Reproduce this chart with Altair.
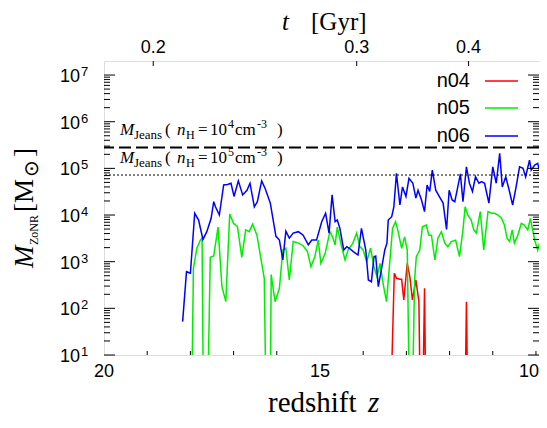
import altair as alt
import pandas as pd

# ---------------- data ----------------
runs = ["n04", "n05", "n06"]
colors = ["#ff0000", "#00ee00", "#0000ff"]

z_n04 = [13.36, 13.28, 13.23, 13.15, 13.11, 13.06, 12.98, 12.92, 12.86, 12.78,
         12.71, 12.68, 12.62, 12.58, 12.55, 11.64, 11.61, 11.58]
m_n04 = [1, 564, 440, 419, 420, 151, 923, 476, 151, 405,
         139, 1, 1, 269, 1, 1, 139, 1]

z_n05 = [17.97, 17.93, 17.85, 17.77, 17.73, 17.70, 17.60, 17.54, 17.46, 17.36,
         17.27, 17.18, 17.09, 17.00, 16.91, 16.81, 16.72, 16.64, 16.56, 16.46,
         16.29, 16.25, 16.15, 16.13, 16.04, 15.94, 15.86, 15.79, 15.71, 15.62,
         15.50, 15.39, 15.29, 15.21, 15.12, 15.04, 14.98, 14.88, 14.77, 14.71,
         14.65, 14.60, 14.50, 14.42, 14.35, 14.24, 14.15, 14.08, 14.00, 13.92,
         13.83, 13.75, 13.68, 13.61, 13.54, 13.46, 13.38, 13.32, 13.25, 13.19,
         13.11, 13.04, 12.98, 12.93, 12.86, 12.81, 12.77, 12.69, 12.63, 12.54,
         12.48, 12.42, 12.34, 12.27, 12.19, 12.11, 12.04, 11.96, 11.86, 11.77,
         11.69, 11.64, 11.58, 11.50, 11.44, 11.38, 11.29, 11.21, 11.11, 11.03,
         10.96, 10.88, 10.80, 10.73, 10.67, 10.61, 10.55, 10.50, 10.42, 10.34,
         10.27, 10.19, 10.13, 10.03, 9.96, 9.90, 9.85]
m_n05 = [1, 720, 1.94e3, 2.9e3, 3.2e3, 1, 1, 1.24e3, 1.32e3, 5.5e3,
         291, 139, 1.05e4, 6.6e3, 5.6e3, 1.24e3, 4.8e3, 4.4e3, 6.4e3, 3.7e3,
         440, 1, 1, 530, 139, 269, 1.78e3, 1.94e3, 405, 2.7e3,
         2.5e3, 2.2e3, 1.64e3, 780, 1.28e3, 2.9e3, 923, 1.51e3, 4.4e3, 3.4e3,
         2.3e3, 5.5e3, 2.1e3, 1.09e3, 1.78e3, 2.5e3, 4.1e3, 2.1e3, 1.78e3, 1.0e3,
         1.94e3, 780, 476, 923, 344, 139, 1.09e3, 5.2e3, 7.2e3, 4.4e3,
         1.94e3, 3.4e3, 1.78e3, 1, 1, 405, 1.28e3, 1.78e3, 5.6e3, 6.1e3,
         3.7e3, 3.7e3, 1.09e3, 3.2e3, 4.4e3, 2.5e3, 2.1e3, 2.7e3, 2.9e3, 1.28e3,
         4.8e3, 1.5e4, 1.0e4, 7.8e3, 4.8e3, 4.1e3, 1.18e4, 1.78e3, 1.18e4, 1.09e4,
         1.09e4, 1.0e4, 8.5e3, 6.1e3, 3.2e3, 2.7e3, 4.8e3, 2.5e3, 3.7e3, 6.6e3,
         6.1e3, 4.8e3, 8.5e3, 2.9e3, 1.78e3, 2.9e3, 3.7e3]

z_n06 = [18.18, 18.09, 18.00, 17.90, 17.81, 17.71, 17.62, 17.52, 17.46, 17.42,
         17.33, 17.23, 17.14, 17.06, 16.99, 16.89, 16.79, 16.69, 16.62, 16.52,
         16.45, 16.35, 16.27, 16.15, 16.02, 15.94, 15.86, 15.79, 15.71, 15.62,
         15.50, 15.39, 15.27, 15.19, 15.08, 14.96, 14.87, 14.79, 14.72, 14.65,
         14.60, 14.54, 14.45, 14.38, 14.32, 14.23, 14.12, 14.04, 13.94, 13.88,
         13.81, 13.75, 13.71, 13.65, 13.58, 13.50, 13.45, 13.42, 13.34, 13.29,
         13.23, 13.15, 13.09, 13.01, 12.94, 12.85, 12.78, 12.73, 12.65, 12.58,
         12.52, 12.46, 12.40, 12.32, 12.24, 12.15, 12.07, 12.01, 11.94, 11.88,
         11.81, 11.75, 11.69, 11.61, 11.54, 11.47, 11.40, 11.32, 11.26, 11.19,
         11.09, 11.00, 10.92, 10.84, 10.78, 10.70, 10.63, 10.54, 10.46, 10.38,
         10.30, 10.24, 10.15, 10.11, 10.03, 9.96, 9.90, 9.85]
m_n06 = [52, 610, 564, 1.09e4, 7.8e3, 3.0e3, 4.4e3, 8.5e3, 1.93e4, 1.5e4,
         1.0e4, 4.4e4, 4.5e4, 4.8e4, 2.5e4, 5.4e4, 2.7e4, 3.4e4, 4.8e4, 1.5e4,
         1.93e4, 5.4e4, 3.7e4, 1.8e4, 3.5e3, 2.9e3, 1.09e3, 4.5e3, 3.2e3, 4.1e3,
         4.4e3, 3.7e3, 2.3e3, 2.9e3, 2.9e3, 7.2e3, 1.09e4, 4.1e3, 2.7e4, 7.2e3,
         7.8e3, 5.2e3, 1.78e3, 2.1e3, 1.94e3, 1.64e3, 1.39e3, 5.2e3, 1.78e3, 405,
         372, 1.28e3, 1.32e3, 291, 664, 1.78e3, 2.5e3, 7.8e3, 9.2e3, 1.5e4,
         7.8e4, 1.64e4, 4.0e4, 2.5e4, 6.1e4, 4.8e4, 2.3e4, 3.4e4, 2.1e4, 1.18e4,
         4.4e4, 3.2e4, 9.2e4, 3.4e4, 2.5e4, 1.8e4, 4.9e3, 3.4e4, 2.1e4, 1.93e4,
         4.0e4, 7.6e4, 1.93e4, 1.08e5, 4.8e4, 3.2e4, 6.6e4, 4.8e4, 5.2e4, 4.8e4,
         1.8e4, 1.08e5, 4.8e4, 2.1e5, 4.0e4, 6.6e4, 3.7e4, 1.64e4, 4.0e4, 1.08e5,
         1.0e5, 6.6e4, 1.5e5, 9.2e4, 1.18e5, 1.28e5, 7.8e4, 7.2e4]

jeans_n1e4 = 2.8e5
jeans_n1e5 = 7.2e4

x_tick_labels = ["20", "15", "10"]
x_tick_z = [20, 15, 10]
x_tick_align = ["center", "center", "right"]
x_minor_z = [19, 18, 17, 16, 14, 13, 12, 11]
t_tick_labels = ["0.2", "0.3", "0.4"]
t_tick_z = [18.86, 14.15, 11.56]
y_decades = [1e1, 1e2, 1e3, 1e4, 1e5, 1e6, 1e7]
y_exponents = ["1", "2", "3", "4", "5", "6", "7"]
y_minor_mult = [2, 3, 4, 5, 6, 7, 8, 9]

# ---------------- layout ----------------
W, H = 435, 294
X0, Y0 = 104, 61          # page position of the plot area
SERIF = "Liberation Serif"
SANS = "Liberation Sans"

xs = alt.Scale(domain=[20, 9.93], nice=False, zero=False)
ys = alt.Scale(type="log", domain=[10, 2e7], nice=False)

df = pd.concat([
    pd.DataFrame({"run": "n04", "z": z_n04, "M": m_n04}),
    pd.DataFrame({"run": "n05", "z": z_n05, "M": m_n05}),
    pd.DataFrame({"run": "n06", "z": z_n06, "M": m_n06}),
], ignore_index=True)

X = alt.X("z:Q", scale=xs, axis=None)
Y = alt.Y("M:Q", scale=ys, axis=None)
one = pd.DataFrame({"k": [0]})


def txt(s, x, y, size, font=SERIF, style="normal", align="left",
        angle=0, baseline="alphabetic"):
    return alt.Chart(one).mark_text(
        text=s, font=font, fontSize=size, fontStyle=style, align=align,
        baseline=baseline, angle=angle, color="black"
    ).encode(x=alt.value(x - X0), y=alt.value(y - Y0))


layers = []

# data lines
layers.append(
    alt.Chart(df).mark_line(strokeWidth=1.5, clip=True).encode(
        x=X, y=Y,
        color=alt.Color("run:N", scale=alt.Scale(domain=runs, range=colors),
                        legend=None),
    )
)

# Jeans mass lines
layers.append(alt.Chart(pd.DataFrame({"M": [jeans_n1e4]})).mark_rule(
    color="black", strokeWidth=2, strokeDash=[12, 5]).encode(y=Y))
layers.append(alt.Chart(pd.DataFrame({"M": [jeans_n1e5]})).mark_rule(
    color="black", strokeWidth=1, strokeDash=[2, 2]).encode(y=Y))

# y ticks (inward, both sides)
minor = [d * m for d in y_decades[:-1] for m in y_minor_mult]
ymaj = pd.DataFrame({"M": y_decades})
ymin = pd.DataFrame({"M": minor})
for frame, L in [(ymaj, 11), (ymin, 6)]:
    layers.append(alt.Chart(frame).mark_rule(color="black", strokeWidth=1).encode(
        x=alt.value(0), x2=alt.value(L), y=Y))
    layers.append(alt.Chart(frame).mark_rule(color="black", strokeWidth=1).encode(
        x=alt.value(W), x2=alt.value(W - L), y=Y))

# x ticks bottom, t ticks top
layers.append(alt.Chart(pd.DataFrame({"z": x_minor_z + [10]})).mark_rule(
    color="black", strokeWidth=1).encode(x=X, y=alt.value(H), y2=alt.value(H - 4)))
layers.append(alt.Chart(pd.DataFrame({"z": t_tick_z})).mark_rule(
    color="black", strokeWidth=1).encode(x=X, y=alt.value(0), y2=alt.value(5)))

# y tick labels 10^n
layers.append(alt.Chart(pd.DataFrame({"M": y_decades})).mark_text(
    text="10", font=SANS, fontSize=18, align="right", baseline="alphabetic",
    dy=7, color="black").encode(x=alt.value(80 - X0), y=Y))
layers.append(alt.Chart(pd.DataFrame({"M": y_decades, "e": y_exponents})).mark_text(
    font=SANS, fontSize=13, align="left", baseline="alphabetic",
    dy=1, color="black").encode(x=alt.value(81 - X0), y=Y, text="e:N"))

# x tick labels (bottom) and t labels (top)
xlab = pd.DataFrame({"z": x_tick_z, "lab": x_tick_labels, "al": x_tick_align})
for al, dx in [("center", 0), ("right", 3)]:
    layers.append(alt.Chart(xlab[xlab["al"] == al]).mark_text(
        font=SANS, fontSize=18, align=al, baseline="middle", dx=dx, color="black"
    ).encode(x=X, y=alt.value(372 - Y0), text="lab:N"))
layers.append(alt.Chart(pd.DataFrame({"z": t_tick_z, "lab": t_tick_labels})).mark_text(
    font=SANS, fontSize=18, align="center", baseline="middle", color="black"
).encode(x=X, y=alt.value(48 - Y0), text="lab:N"))

# axis titles
layers += [
    txt("redshift", 268, 412, 29),
    txt("z", 368, 412, 29, style="italic"),
    txt("t", 282, 30, 25, style="italic"),
    txt("[Gyr]", 311, 30, 25),
    txt("M", 33, 268, 27, style="italic", angle=270),
    txt("ZoNR", 38, 245, 12, angle=270),
    txt("[M", 33, 212, 27, angle=270),
    txt("⊙", 38, 177, 20, angle=270),
    txt("]", 33, 157, 27, angle=270),
]

# Jeans labels
for base, exp in [(135, "4"), (163, "5")]:
    layers += [
        txt("M", 120, base, 17, style="italic"),
        txt("Jeans", 134, base + 4, 13),
        txt("(", 165, base, 17),
        txt("n", 177, base, 17, style="italic"),
        txt("H", 186, base + 4, 12),
        txt("=", 198, base, 17),
        txt("10", 210, base, 17),
        txt(exp, 228, base - 7, 12),
        txt("cm", 235, base, 17),
        txt("-3", 257, base - 7, 12),
        txt(")", 277, base, 17),
    ]

# legend
for i, (r, c) in enumerate(zip(runs, colors)):
    yy = [81, 108, 136][i]
    layers.append(txt(r, 470, yy, 20, font=SANS, align="right", baseline="middle"))
    layers.append(alt.Chart(one).mark_rule(color=c, strokeWidth=1.5).encode(
        x=alt.value(485 - X0), x2=alt.value(518 - X0), y=alt.value(yy - Y0)))

chart = alt.layer(*layers).properties(
    width=W, height=H,
    autosize=alt.AutoSizeParams(type="none"),
    padding={"left": 96, "top": 53, "right": 0, "bottom": 65},
).configure_view(stroke="black", strokeWidth=1.2).configure(background="white")

chart.save("out.html", embed_options={"renderer": "svg", "actions": False})
